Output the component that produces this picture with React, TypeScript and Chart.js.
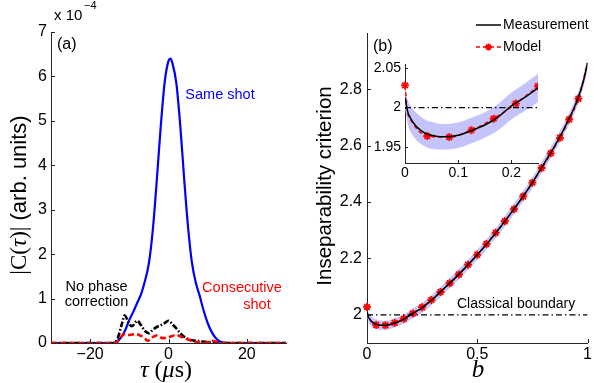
import React, { useEffect, useRef } from 'react';
import { Chart, registerables } from 'chart.js';
Chart.register(...registerables);

const SANS = '"Liberation Sans", Arial, Helvetica, sans-serif';
const SERIF = '"Liberation Serif", "Times New Roman", serif';
const AXIS = '#262626';
const BLUE = '#0000ff';
const RED = '#ff0000';
const BAND = 'rgb(196,196,250)';

// ---------- Panel (a) ----------
const tauSame = [-30, -15, -14, -13, -12, -11, -10, -9, -8, -7, -6, -5, -4, -3, -2, -1, 0, 0.5, 1, 2, 3, 4, 5, 6, 7, 8, 9, 10, 11, 12, 13, 14, 15, 30];
const sameShot = [0, 0, 0, 0.05, 0.14, 0.3, 0.52, 0.7, 0.9, 1.1, 1.4, 1.8, 2.55, 3.65, 4.85, 5.85, 6.35, 6.4, 6.3, 5.85, 4.9, 3.7, 2.6, 1.8, 1.35, 1.05, 0.72, 0.45, 0.25, 0.12, 0.04, 0.01, 0, 0];

const tauNoPhase = [-30, -14, -13, -12, -11.2, -10, -9.3, -8, -7, -6, -5, -4, -3, -2, -1, 0, 1, 2, 3, 4, 5, 6, 7, 8, 9, 10, 11, 12, 13, 14, 30];
const noPhase = [0, 0, 0.1, 0.4, 0.62, 0.42, 0.38, 0.5, 0.4, 0.27, 0.22, 0.3, 0.36, 0.4, 0.45, 0.5, 0.42, 0.33, 0.22, 0.14, 0.09, 0.06, 0.05, 0.04, 0.03, 0.02, 0.02, 0.015, 0.01, 0, 0];

const tauCons = [-30, -14, -13, -12, -11.3, -10, -8.3, -7, -6, -5.3, -4, -3, -1.5, 0, 2, 3.5, 5, 6.5, 8, 9, 10, 11.2, 12.5, 14, 30];
const consecutive = [0, 0, 0.03, 0.15, 0.2, 0.18, 0.2, 0.16, 0.1, 0.05, 0.13, 0.17, 0.11, 0.13, 0.18, 0.13, 0.08, 0.03, 0.01, 0, 0.02, 0.05, 0.02, 0, 0];

const tauTicks = [-20, 0, 20];
const cTicks = [0, 1, 2, 3, 4, 5, 6, 7];

// ---------- Panel (b) ----------
const measB = [0, 0.005, 0.01, 0.02, 0.03, 0.04, 0.05, 0.07, 0.1, 0.125, 0.15, 0.175, 0.2, 0.225, 0.25, 0.3, 0.35, 0.4, 0.45, 0.5, 0.55, 0.6, 0.65, 0.7, 0.75, 0.8, 0.85, 0.9, 0.95, 0.98, 1.0];
const measV = [2.013, 1.995, 1.987, 1.977, 1.971, 1.967, 1.965, 1.963, 1.965, 1.971, 1.978, 1.988, 2.002, 2.013, 2.025, 2.057, 2.094, 2.131, 2.171, 2.213, 2.258, 2.306, 2.358, 2.412, 2.469, 2.533, 2.598, 2.67, 2.755, 2.825, 2.893];
const bandLow = [1.999, 1.98, 1.97, 1.96, 1.954, 1.95, 1.948, 1.947, 1.949, 1.955, 1.962, 1.9715, 1.985, 1.9955, 2.007, 2.039, 2.076, 2.113, 2.153, 2.195, 2.24, 2.288, 2.339, 2.393, 2.45, 2.513, 2.578, 2.65, 2.734, 2.804, 2.871];
const bandHigh = [2.027, 2.01, 2.003, 1.994, 1.988, 1.984, 1.982, 1.979, 1.981, 1.987, 1.994, 2.0045, 2.019, 2.0305, 2.043, 2.075, 2.112, 2.149, 2.189, 2.231, 2.276, 2.324, 2.377, 2.431, 2.488, 2.553, 2.618, 2.69, 2.776, 2.846, 2.915];

// Model: dashed curve and star markers
const modelLineB = [0, 0.004, 0.01, 0.02, 0.03, 0.0417, 0.0833, 0.125, 0.1667, 0.2083, 0.25, 0.2917, 0.3333, 0.375, 0.4167, 0.4583, 0.5, 0.5417, 0.5833, 0.625, 0.6667, 0.7083, 0.75, 0.7917, 0.8333, 0.875, 0.9167, 0.9583, 1.0];
const modelLineV = [2.028, 1.997, 1.986, 1.975, 1.968, 1.964, 1.9627, 1.9715, 1.986, 2.005, 2.027, 2.053, 2.081, 2.112, 2.143, 2.178, 2.213, 2.251, 2.291, 2.332, 2.375, 2.42, 2.469, 2.521, 2.573, 2.628, 2.693, 2.767, 2.893];
const modelB = [0, 0.0417, 0.0833, 0.125, 0.1667, 0.2083, 0.25, 0.2917, 0.3333, 0.375, 0.4167, 0.4583, 0.5, 0.5417, 0.5833, 0.625, 0.6667, 0.7083, 0.75, 0.7917, 0.8333, 0.875, 0.9167, 0.9583];
const modelV = [2.028, 1.964, 1.9627, 1.9715, 1.986, 2.005, 2.027, 2.053, 2.081, 2.112, 2.143, 2.178, 2.213, 2.251, 2.291, 2.332, 2.375, 2.42, 2.469, 2.521, 2.573, 2.628, 2.693, 2.767];

const boundaryB = [0, 1];
const boundaryV = [2, 2];
const insetBoundaryB = [0, 0.25];

const bTicks = [0, 0.5, 1];
const critTicks = [2, 2.2, 2.4, 2.6, 2.8];
const insetBTicks = [0, 0.1, 0.2];
const insetCritTicks = [1.95, 2, 2.05];

const pts = (xs: number[], ys: number[]) => xs.map((x, i) => ({ x, y: ys[i] }));
const fmt = (v: number) => {
  const s = String(Number(v.toFixed(3)));
  return s.startsWith('-') ? '\u2212' + s.slice(1) : s;
};

type Part = { t: string; font: string; color?: string; dy?: number };
function drawRich(ctx: CanvasRenderingContext2D, parts: Part[], x: number, y: number, align: 'left' | 'center' | 'right', rotate = 0) {
  ctx.save();
  ctx.translate(x, y);
  if (rotate) ctx.rotate(rotate);
  ctx.textBaseline = 'middle';
  ctx.textAlign = 'left';
  let total = 0;
  for (const p of parts) { ctx.font = p.font; total += ctx.measureText(p.t).width; }
  let cx = align === 'left' ? 0 : align === 'center' ? -total / 2 : -total;
  for (const p of parts) {
    ctx.font = p.font;
    ctx.fillStyle = p.color || '#000';
    ctx.fillText(p.t, cx, p.dy || 0);
    cx += ctx.measureText(p.t).width;
  }
  ctx.restore();
}

const inwardTicks = (len: number) => ({
  id: 'inwardTicks',
  afterDraw(chart: any) {
    const ctx = chart.ctx; const a = chart.chartArea;
    const xs = chart.scales.x, ys = chart.scales.y;
    ctx.save();
    ctx.strokeStyle = AXIS; ctx.lineWidth = 1;
    ctx.beginPath();
    xs.ticks.forEach((t: any) => { const px = Math.round(xs.getPixelForValue(t.value)) + 0.5; ctx.moveTo(px, a.bottom); ctx.lineTo(px, a.bottom - len); });
    ys.ticks.forEach((t: any) => { const py = Math.round(ys.getPixelForValue(t.value)) + 0.5; ctx.moveTo(a.left, py); ctx.lineTo(a.left + len, py); });
    ctx.stroke();
    ctx.restore();
  },
});

function axes(xMin: number, xMax: number, xT: number[], yMin: number, yMax: number, yT: number[], size: number, yW: number, xH: number, xPad: number, yPad: number) {
  const common = {
    type: 'linear' as const,
    grid: { display: false, drawTicks: false },
    border: { display: true, color: AXIS, width: 1 },
  };
  return {
    x: {
      ...common, min: xMin, max: xMax,
      afterBuildTicks: (s: any) => { s.ticks = xT.map((v) => ({ value: v })); },
      afterFit: (s: any) => { s.height = xH; },
      ticks: { font: { family: SANS, size }, color: '#000', padding: xPad, maxRotation: 0, autoSkip: false, callback: (v: any) => fmt(Number(v)) },
    },
    y: {
      ...common, min: yMin, max: yMax,
      afterBuildTicks: (s: any) => { s.ticks = yT.map((v) => ({ value: v })); },
      afterFit: (s: any) => { s.width = yW; },
      ticks: { font: { family: SANS, size }, color: '#000', padding: yPad, autoSkip: false, callback: (v: any) => fmt(Number(v)) },
    },
  };
}

const baseOpts = { animation: false as const, responsive: false, events: [] as any[], plugins: { legend: { display: false }, tooltip: { enabled: false } } };

function drawStar(ctx: CanvasRenderingContext2D, cx: number, cy: number, r: number) {
  ctx.save();
  ctx.strokeStyle = RED; ctx.lineWidth = 1.8;
  ctx.beginPath();
  for (let k = 0; k < 4; k++) {
    const ang = (k * Math.PI) / 4;
    ctx.moveTo(cx + r * Math.cos(ang), cy + r * Math.sin(ang));
    ctx.lineTo(cx - r * Math.cos(ang), cy - r * Math.sin(ang));
  }
  ctx.stroke();
  ctx.restore();
}

export default function App() {
  const aRef = useRef<HTMLCanvasElement>(null);
  const bRef = useRef<HTMLCanvasElement>(null);
  const iRef = useRef<HTMLCanvasElement>(null);

  useEffect(() => {
    document.body.style.margin = '0';
    const charts: Chart[] = [];

    const textA = {
      id: 'textA',
      afterDraw(chart: any) {
        const ctx = chart.ctx;
        drawRich(ctx, [{ t: '(a)', font: `16px ${SANS}` }], 57, 45, 'left');
        drawRich(ctx, [{ t: 'x 10', font: `15px ${SANS}` }], 54, 16, 'left');
        drawRich(ctx, [{ t: '\u22124', font: `11px ${SANS}` }], 84, 6, 'left');
        drawRich(ctx, [{ t: 'Same shot', font: `14.5px ${SANS}`, color: BLUE }], 220, 95, 'center');
        drawRich(ctx, [{ t: 'No phase', font: `14.5px ${SANS}` }], 96.5, 287, 'center');
        drawRich(ctx, [{ t: 'correction', font: `14.5px ${SANS}` }], 96.5, 302, 'center');
        drawRich(ctx, [{ t: 'Consecutive', font: `14.5px ${SANS}`, color: RED }], 242, 288, 'center');
        drawRich(ctx, [{ t: 'shot', font: `14.5px ${SANS}`, color: RED }], 257, 305, 'center');
        drawRich(ctx, [
          { t: '|C(', font: `23px ${SERIF}` },
          { t: '\u03c4', font: `italic 23px ${SERIF}` },
          { t: ')|', font: `23px ${SERIF}` },
          { t: ' (arb. units)', font: `22px ${SANS}` },
        ], 20, 195, 'center', -Math.PI / 2);
        drawRich(ctx, [
          { t: '\u03c4', font: `italic 24px ${SERIF}` },
          { t: ' (', font: `24px ${SERIF}` },
          { t: '\u03bc', font: `italic 24px ${SERIF}` },
          { t: 's)', font: `24px ${SERIF}` },
        ], 166, 371, 'center');
      },
    };

    charts.push(new Chart(aRef.current!, {
      type: 'line',
      data: {
        datasets: [
          { data: pts(tauCons, consecutive), borderColor: RED, borderWidth: 2.6, borderDash: [6, 3], pointRadius: 0, cubicInterpolationMode: 'monotone' },
          { data: pts(tauNoPhase, noPhase), borderColor: '#000', borderWidth: 2.6, borderDash: [6, 2, 1.5, 2], pointRadius: 0, cubicInterpolationMode: 'monotone' },
          { data: pts(tauSame, sameShot), borderColor: BLUE, borderWidth: 2.2, pointRadius: 0, cubicInterpolationMode: 'monotone' },
        ],
      } as any,
      options: {
        ...baseOpts,
        layout: { padding: { left: 11, right: 308, top: 32, bottom: 10 } },
        scales: axes(-30, 30, tauTicks, 0, 7, cTicks, 16, 40, 30, 2, 4) as any,
      } as any,
      plugins: [inwardTicks(4), textA],
    }));

    const textB = {
      id: 'textB',
      afterDraw(chart: any) {
        const ctx = chart.ctx;
        drawRich(ctx, [{ t: '(b)', font: `16px ${SANS}` }], 373, 47, 'left');
        drawRich(ctx, [{ t: 'Classical boundary', font: `14px ${SANS}` }], 457, 304, 'left');
        drawRich(ctx, [{ t: 'Inseparability criterion', font: `20.5px ${SANS}` }], 325, 186, 'center', -Math.PI / 2);
        drawRich(ctx, [{ t: 'b', font: `italic 25px ${SERIF}` }], 478, 370, 'center');
        ctx.save();
        ctx.strokeStyle = '#000'; ctx.lineWidth = 1.5;
        ctx.beginPath(); ctx.moveTo(476, 25); ctx.lineTo(501, 25); ctx.stroke();
        ctx.strokeStyle = RED; ctx.setLineDash([4, 3]);
        ctx.beginPath(); ctx.moveTo(476, 47); ctx.lineTo(501, 47); ctx.stroke();
        ctx.restore();
        drawStar(ctx, 488.5, 47, 3.5);
        drawRich(ctx, [{ t: 'Measurement', font: `14px ${SANS}` }], 503, 25, 'left');
        drawRich(ctx, [{ t: 'Model', font: `14px ${SANS}` }], 503, 47, 'left');
      },
    };

    const markerDs = (clipObj: any) => ({
      data: pts(modelB, modelV), showLine: false,
      pointStyle: 'star', pointRadius: 4, pointBorderWidth: 1.8,
      pointBorderColor: RED, pointBackgroundColor: RED, clip: clipObj,
    });
    const modelLineDs = { data: pts(modelLineB, modelLineV), borderColor: RED, borderWidth: 1.5, borderDash: [4, 3], pointRadius: 0, cubicInterpolationMode: 'monotone' };
    const measDs = { data: pts(measB, measV), borderColor: '#000', borderWidth: 1.5, pointRadius: 0, cubicInterpolationMode: 'monotone' };
    const lowDs = { data: pts(measB, bandLow), borderWidth: 0, borderColor: 'rgba(0,0,0,0)', pointRadius: 0, cubicInterpolationMode: 'monotone' };
    const highDs = { data: pts(measB, bandHigh), borderWidth: 0, borderColor: 'rgba(0,0,0,0)', pointRadius: 0, cubicInterpolationMode: 'monotone', fill: { target: '-1' }, backgroundColor: BAND };

    charts.push(new Chart(bRef.current!, {
      type: 'line',
      data: {
        datasets: [
          markerDs({ left: 8, top: 8, right: 8, bottom: 0 }),
          { ...modelLineDs },
          { ...measDs },
          { data: pts(boundaryB, boundaryV), borderColor: '#000', borderWidth: 1.2, borderDash: [6, 3, 1.5, 3], pointRadius: 0 },
          { ...highDs },
          { ...lowDs },
        ].reverse().map((d, i) => ({ ...d, order: i })),
      } as any,
      options: {
        ...baseOpts,
        plugins: { ...baseOpts.plugins, filler: { drawTime: 'beforeDatasetsDraw' } },
        layout: { padding: { left: 327, right: 5, top: 33, bottom: 10 } },
        scales: axes(0, 1, bTicks, 1.9, 3.0, critTicks, 16, 40, 30, 2, 5) as any,
      } as any,
      plugins: [inwardTicks(4), textB],
    }));

    charts.push(new Chart(iRef.current!, {
      type: 'line',
      data: {
        datasets: [
          markerDs({ left: 8, top: 8, right: 0, bottom: 0 }),
          { ...modelLineDs },
          { ...measDs },
          { data: pts(insetBoundaryB, boundaryV), borderColor: '#000', borderWidth: 1.2, borderDash: [6, 3, 1.5, 3], pointRadius: 0 },
          { ...highDs },
          { ...lowDs },
        ].reverse().map((d, i) => ({ ...d, order: i })),
      } as any,
      options: {
        ...baseOpts,
        plugins: { ...baseOpts.plugins, filler: { drawTime: 'beforeDatasetsDraw' } },
        layout: { padding: { left: 365, right: 56, top: 64, bottom: 195 } },
        scales: axes(0, 0.25, insetBTicks, 1.93, 2.055, insetCritTicks, 14, 40, 25, 2, 4) as any,
      } as any,
      plugins: [inwardTicks(3)],
    }));

    return () => charts.forEach((c) => c.destroy());
  }, []);

  const cs: React.CSSProperties = { position: 'absolute', left: 0, top: 0 };
  return (
    <div style={{ position: 'relative', width: 594, height: 383, background: '#fff' }}>
      <canvas ref={aRef} width={594} height={383} style={cs} />
      <canvas ref={bRef} width={594} height={383} style={cs} />
      <canvas ref={iRef} width={594} height={383} style={cs} />
    </div>
  );
}
